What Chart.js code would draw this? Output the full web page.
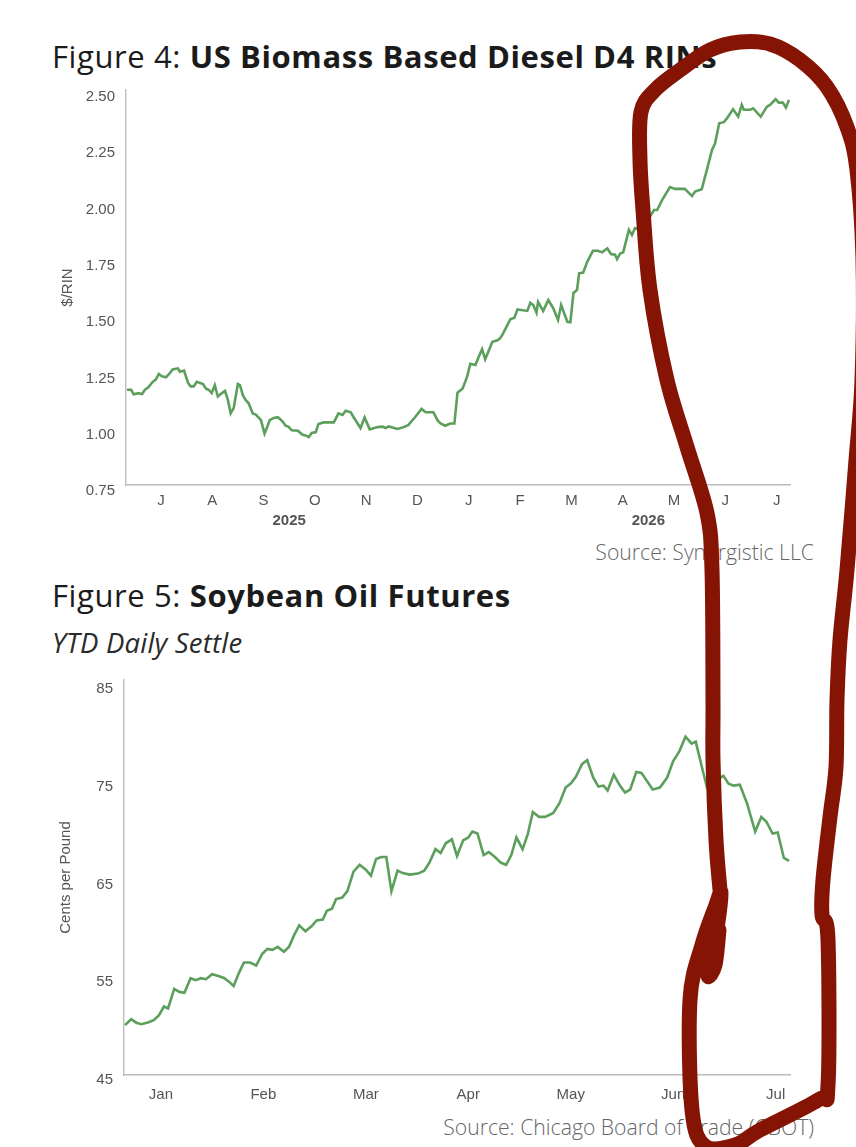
<!DOCTYPE html>
<html><head><meta charset="utf-8">
<script src="https://cdn.jsdelivr.net/npm/chart.js@4.4.1/dist/chart.umd.min.js"></script>
<style>
html,body{margin:0;padding:0;background:#fff;}
#page{position:relative;width:856px;height:1147px;overflow:hidden;background:#fff;}
.t{position:absolute;font-family:'Open Sans',Lato,sans-serif;color:#1b1b1b;white-space:nowrap;line-height:1;margin:0;}
.title{left:52px;font-size:31px;font-weight:400;letter-spacing:0.6px;}
.title b{font-weight:700;}
.sub{left:52px;font-size:27.5px;font-style:italic;color:#2a2a2a;letter-spacing:0.2px;}
.src{right:42px;font-size:21.2px;color:#666;font-weight:300;}
canvas{position:absolute;left:0;}
#ov{position:absolute;left:0;top:0;pointer-events:none;}
</style>
</head>
<body>
<div id="page">
  <div class="t title" style="top:41px">Figure 4: <b>US Biomass Based Diesel D4 RINs</b></div>
  <canvas id="c1" width="856" height="449" style="top:80px"></canvas>
  <div class="t src" style="top:541px">Source: Synergistic LLC</div>
  <div class="t title" style="top:580px">Figure 5: <b>Soybean Oil Futures</b></div>
  <div class="t sub" style="top:629px">YTD Daily Settle</div>
  <canvas id="c2" width="856" height="435" style="top:670px"></canvas>
  <div class="t src" style="top:1116px">Source: Chicago Board of Trade (CBOT)</div>
  <svg id="ov" width="856" height="1147"></svg>
</div>
<script>
// ---------- Figure 4: D4 RIN prices ($/RIN); x = months from Jul 2025 ----------
const rinMonthLabels = ['J','A','S','O','N','D','J','F','M','A','M','J','J'];
const rinYearLabels = ['2025','2026'];
const rinYearPos = [2.5, 9.5];
const rinTicks = [0.75,1.00,1.25,1.50,1.75,2.00,2.25,2.50];
const rinX = [-0.66,-0.58,-0.53,-0.43,-0.37,-0.31,-0.25,-0.16,-0.10,-0.04,0.02,0.10,0.16,0.23,0.33,0.37,0.45,0.53,0.58,0.64,0.70,0.82,0.88,0.93,0.99,1.05,1.11,1.19,1.25,1.30,1.36,1.42,1.50,1.54,1.60,1.65,1.71,1.79,1.85,1.95,2.02,2.08,2.12,2.20,2.28,2.37,2.43,2.49,2.55,2.67,2.76,2.82,2.88,2.94,3.02,3.07,3.17,3.37,3.46,3.54,3.60,3.70,3.75,3.89,3.97,4.07,4.22,4.32,4.38,4.44,4.61,4.73,4.82,4.96,5.08,5.16,5.31,5.39,5.45,5.54,5.64,5.72,5.78,5.88,5.93,5.97,6.03,6.13,6.19,6.26,6.32,6.46,6.56,6.61,6.67,6.81,6.89,6.95,7.14,7.20,7.26,7.32,7.35,7.45,7.55,7.65,7.74,7.80,7.92,7.98,8.04,8.11,8.15,8.23,8.31,8.42,8.52,8.60,8.70,8.77,8.85,8.89,8.95,9.01,9.12,9.18,9.24,9.34,9.44,9.53,9.61,9.67,9.77,9.92,10.02,10.21,10.35,10.41,10.54,10.64,10.74,10.80,10.88,10.97,11.03,11.15,11.25,11.32,11.36,11.48,11.54,11.69,11.81,11.87,11.98,12.04,12.12,12.18,12.24];
const rinValues = [1.20,1.20,1.18,1.185,1.18,1.20,1.21,1.235,1.245,1.27,1.26,1.255,1.27,1.29,1.295,1.28,1.285,1.23,1.215,1.215,1.235,1.225,1.205,1.20,1.185,1.22,1.17,1.185,1.195,1.16,1.095,1.12,1.225,1.22,1.175,1.155,1.14,1.095,1.09,1.065,1.005,1.04,1.065,1.075,1.078,1.06,1.04,1.035,1.02,1.018,1.0,0.997,0.99,1.008,1.012,1.048,1.055,1.055,1.095,1.088,1.107,1.10,1.08,1.03,1.077,1.024,1.034,1.036,1.03,1.037,1.026,1.034,1.043,1.08,1.115,1.10,1.10,1.065,1.05,1.04,1.05,1.05,1.187,1.206,1.235,1.26,1.315,1.31,1.344,1.38,1.335,1.413,1.42,1.428,1.45,1.513,1.52,1.557,1.55,1.586,1.575,1.542,1.59,1.55,1.598,1.56,1.51,1.576,1.502,1.50,1.63,1.643,1.717,1.72,1.769,1.817,1.817,1.81,1.828,1.803,1.80,1.78,1.805,1.81,1.91,1.887,1.918,1.91,1.94,1.968,1.998,1.998,2.043,2.10,2.092,2.092,2.06,2.08,2.09,2.176,2.265,2.294,2.383,2.388,2.405,2.445,2.413,2.465,2.443,2.443,2.45,2.413,2.457,2.465,2.49,2.475,2.475,2.453,2.487];

// ---------- Figure 5: Soybean oil futures (cents/lb); x = months from Jan ----------
const soyMonthLabels = ['Jan','Feb','Mar','Apr','May','Jun','Jul'];
const soyTicks = [45,55,65,75,85];
const soyX = [-0.35,-0.29,-0.24,-0.19,-0.12,-0.07,-0.02,0.03,0.07,0.13,0.18,0.23,0.29,0.34,0.39,0.44,0.50,0.57,0.62,0.67,0.71,0.76,0.81,0.87,0.93,0.99,1.04,1.09,1.14,1.20,1.25,1.30,1.35,1.41,1.47,1.52,1.58,1.62,1.67,1.71,1.77,1.82,1.88,1.94,2.00,2.05,2.10,2.15,2.20,2.25,2.31,2.36,2.43,2.51,2.57,2.62,2.68,2.73,2.78,2.84,2.89,2.95,3.00,3.04,3.09,3.15,3.20,3.26,3.32,3.37,3.42,3.47,3.53,3.58,3.63,3.69,3.75,3.83,3.89,3.95,4.00,4.05,4.11,4.16,4.22,4.27,4.32,4.36,4.42,4.48,4.53,4.58,4.64,4.69,4.80,4.87,4.94,5.00,5.06,5.12,5.18,5.22,5.28,5.33,5.38,5.43,5.49,5.54,5.59,5.65,5.72,5.80,5.86,5.91,5.97,6.02,6.08,6.13];
const soyValues = [50.3,50.9,50.55,50.4,50.6,50.8,51.3,52.2,52.0,54.0,53.7,53.6,55.1,54.9,55.1,55.0,55.5,55.3,55.1,54.7,54.3,55.6,56.7,56.7,56.4,57.6,58.1,58.0,58.3,57.8,58.3,59.5,60.5,59.9,60.4,61.0,61.1,62.0,62.2,63.2,63.35,64.0,66.0,66.7,66.2,65.6,67.3,67.5,67.5,64.0,66.1,65.85,65.7,65.8,66.1,66.9,68.3,67.9,68.9,69.3,67.6,69.2,69.5,70.1,69.9,67.7,68.0,67.5,66.9,66.7,67.7,69.5,68.3,69.8,72.1,71.6,71.6,72.0,73.0,74.6,75.0,75.7,77.0,77.4,75.6,74.7,74.8,74.3,75.9,74.8,74.1,74.4,76.2,76.1,74.4,74.6,75.6,77.3,78.3,79.8,79.1,79.3,76.7,74.6,74.8,75.4,75.8,75.0,74.8,74.9,73.0,70.1,71.6,71.1,69.9,70.0,67.4,67.1];

const AX_FONT = "'Liberation Sans', Arial, sans-serif";
const GREEN = '#5c9e5c';
const AXIS_LINE = '#bcbcbc';
const TICK_COL = '#555555';

function pts(xs, ys){ return xs.map((x,i)=>({x:x, y:ys[i]})); }

function makeChart(id, cfg){
  return new Chart(document.getElementById(id), {
    type:'line',
    data:{datasets:[{data:pts(cfg.xs, cfg.ys), borderColor:GREEN, borderWidth:2.6, pointRadius:0, tension:0, fill:false}]},
    options:{
      responsive:false, animation:false, devicePixelRatio:1,
      layout:{padding:{left:cfg.padLeft, right:66, top:10, bottom:0}},
      plugins:{legend:{display:false}, tooltip:{enabled:false}},
      scales: cfg.scales
    }
  });
}

const yBase = (ticks, min, max, fmt, title, labelOffset) => ({
  type:'linear', position:'left', min:min, max:max,
  grid:{display:false, drawTicks:false}, border:{display:true, color:AXIS_LINE, width:1.4},
  afterBuildTicks: s => { s.ticks = ticks.map(v=>({value:v})); },
  afterFit: s => { s.width = 85; s.paddingTop = 0; s.paddingBottom = 0; },
  ticks:{callback: fmt, padding:11, labelOffset:labelOffset, color:TICK_COL, font:{family:AX_FONT, size:15}},
  title:{display:true, text:title, color:TICK_COL, padding:{top:18, bottom:0}, font:{family:AX_FONT, size:15}}
});

makeChart('c1', {
  xs: rinX, ys: rinValues, padLeft:41,
  scales:{
    x:{type:'linear', position:'bottom', min:-0.68, max:12.26,
       grid:{display:false, drawTicks:false}, border:{display:true, color:AXIS_LINE, width:1.4},
       afterBuildTicks: s => { s.ticks = rinMonthLabels.map((_,i)=>({value:i})); },
       afterFit: s => { s.height = 22; },
       ticks:{autoSkip:false, maxRotation:0, padding:7, color:TICK_COL, font:{family:AX_FONT, size:15},
              callback:(v,i)=>rinMonthLabels[i]}},
    x2:{type:'linear', axis:'x', position:'bottom', min:-0.68, max:12.26,
       grid:{display:false, drawTicks:false}, border:{display:false},
       afterBuildTicks: s => { s.ticks = rinYearPos.map(v=>({value:v})); },
       afterFit: s => { s.height = 22; },
       ticks:{autoSkip:false, maxRotation:0, padding:5, color:TICK_COL, font:{family:AX_FONT, size:15, weight:'bold'},
              callback:(v,i)=>rinYearLabels[i]}},
    y: yBase(rinTicks, 0.777, 2.531, v=>v.toFixed(2), '$/RIN', 0)
  }
});

makeChart('c2', {
  xs: soyX, ys: soyValues, padLeft:39,
  scales:{
    x:{type:'linear', position:'bottom', min:-0.36, max:6.14,
       grid:{display:false, drawTicks:false}, border:{display:true, color:AXIS_LINE, width:1.4},
       afterBuildTicks: s => { s.ticks = soyMonthLabels.map((_,i)=>({value:i})); },
       afterFit: s => { s.height = 30; },
       ticks:{autoSkip:false, maxRotation:0, padding:11, color:TICK_COL, font:{family:AX_FONT, size:15},
              callback:(v,i)=>soyMonthLabels[i]}},
    y: yBase(soyTicks, 45.2, 85.6, v=>String(v), 'Cents per Pound', 3)
  }
});

// ---------- hand-drawn red annotation loop (overlay) ----------
(function(){
  const P = [[720,890],[716,840],[713,760],[713,700],[712,570],[707,513],[687,447],[667,380],[650,290],[643,210],[640,160],[641,112],[655,90],[680,70],[710,50],[740,42],[770,44],[800,60],[827,87],[847,127],[857,170],[863,260],[862,380],[856,460],[847,570],[840,640],[837,700],[836,767],[830,817],[823,880],[822,915],[828,940],[828,1085],[818,1100],[760,1130],[735,1145],[705,1146],[692,1110],[690,1000],[702,945],[716,905],[721,893],[716,935],[708,975],[715,965],[719,930]];
  let d = 'M'+P[0][0]+' '+P[0][1];
  for(let i=0;i<P.length-1;i++){
    const p0=P[Math.max(0,i-1)], p1=P[i], p2=P[i+1], p3=P[Math.min(P.length-1,i+2)];
    const c1=[p1[0]+(p2[0]-p0[0])/6, p1[1]+(p2[1]-p0[1])/6];
    const c2=[p2[0]-(p3[0]-p1[0])/6, p2[1]-(p3[1]-p1[1])/6];
    d += ` C${c1[0]} ${c1[1]} ${c2[0]} ${c2[1]} ${p2[0]} ${p2[1]}`;
  }
  const path = document.createElementNS('http://www.w3.org/2000/svg','path');
  path.setAttribute('d', d);
  path.setAttribute('fill','none');
  path.setAttribute('stroke','#861405');
  path.setAttribute('stroke-width','15');
  path.setAttribute('stroke-linecap','round');
  path.setAttribute('stroke-linejoin','round');
  document.getElementById('ov').appendChild(path);
})();
</script>
</body></html>
